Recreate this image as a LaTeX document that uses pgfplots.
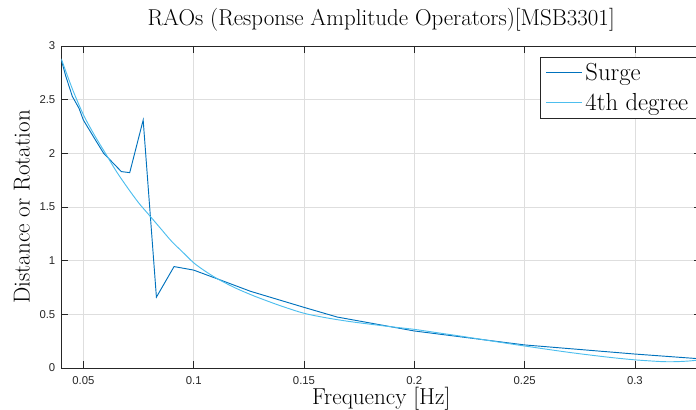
\documentclass[border=0pt]{standalone}
\usepackage{pgfplots}
\pgfplotsset{compat=1.18}
\usepackage{pgfplotstable}
\usepackage{fontspec}
\newfontfamily\ticksans{Liberation Sans}
\definecolor{c1}{rgb}{0,0.447,0.741}
\definecolor{c2}{rgb}{0.302,0.745,0.933}
\definecolor{axgray}{rgb}{0.15,0.15,0.15}
\definecolor{gridgray}{rgb}{0.87,0.87,0.87}

\pgfplotstableread{
x y
0.0400 2.87
0.0420 2.72
0.0450 2.53
0.0480 2.42
0.0500 2.31
0.0550 2.14
0.0592 2.00
0.0672 1.83
0.0710 1.82
0.0771 2.31
0.0831 0.66
0.0911 0.945
0.1000 0.912
0.1121 0.82
0.1257 0.715
0.1500 0.565
0.1650 0.475
0.2000 0.345
0.2500 0.215
0.3000 0.130
0.3300 0.085
}\surge

\pgfplotstableread{
x y
0.040 2.88
0.045 2.60
0.050 2.36
0.055 2.17
0.060 2.00
0.065 1.83
0.070 1.68
0.075 1.54
0.080 1.42
0.085 1.30
0.090 1.18
0.095 1.08
0.100 0.98
0.105 0.905
0.110 0.84
0.115 0.785
0.120 0.735
0.1257 0.685
0.130 0.650
0.140 0.575
0.150 0.510
0.160 0.468
0.170 0.435
0.180 0.408
0.190 0.383
0.200 0.360
0.210 0.330
0.220 0.300
0.230 0.268
0.240 0.236
0.250 0.205
0.260 0.175
0.270 0.146
0.280 0.120
0.290 0.096
0.300 0.076
0.310 0.062
0.315 0.058
0.320 0.060
0.325 0.066
0.330 0.077
}\fit

\begin{document}
\begin{tikzpicture}
\path[use as bounding box] (0,0) rectangle (522pt,307.5pt);
\begin{axis}[
  at={(46pt,31.5pt)}, anchor=south west,
  scale only axis, width=479.8pt, height=241.5pt,
  xmin=0.04, xmax=0.33, ymin=0, ymax=3,
  xtick={0.05,0.1,0.15,0.2,0.25,0.3},
  xticklabels={0.05,0.1,0.15,0.2,0.25,0.3},
  ytick={0,0.5,1,1.5,2,2.5,3},
  yticklabels={0,0.5,1,1.5,2,2.5,3},
  ticklabel style={font=\ticksans\fontsize{8.5}{10}\selectfont, text=axgray},
  xticklabel style={yshift=-3pt},
  yticklabel style={xshift=-1pt},
  tick align=inside, major tick length=5pt,
  tick style={axgray, line width=0.5pt},
  axis line style={axgray, line width=0.6pt},
  grid=major, major grid style={gridgray, line width=0.5pt},
  every axis title shift=0pt,
  title={RAOs (Response Amplitude Operators)[MSB3301]},
  title style={font=\fontsize{17.2}{20}\selectfont, at={(axis description cs:0.5,1.0807)}, anchor=center},
  xlabel={Frequency [Hz]},
  xlabel style={font=\fontsize{17.3}{20}\selectfont, at={(axis description cs:0.5,-0.0945)}, anchor=center},
  ylabel={Distance or Rotation},
  ylabel style={font=\fontsize{17.3}{20}\selectfont, at={(axis description cs:-0.0615,0.5)}, anchor=center},
  legend style={at={(axis description cs:0.993,0.9658)}, anchor=north east,
    font=\fontsize{18.5}{22.5}\selectfont, draw=axgray, line width=0.5pt, fill=white,
    inner xsep=4pt, inner ysep=2.5pt, row sep=4pt},
  legend cell align=left,
  legend image code/.code={\draw[#1, line width=0.7pt] (0pt,0pt) -- (27pt,0pt);},
]
\addplot[c1, line width=0.7pt] table[x=x,y=y] {\surge};
\addlegendentry{Surge}
\addplot[c2, line width=0.7pt, smooth] table[x=x,y=y] {\fit};
\addlegendentry{4th degree}
\end{axis}
\end{tikzpicture}
\end{document}
